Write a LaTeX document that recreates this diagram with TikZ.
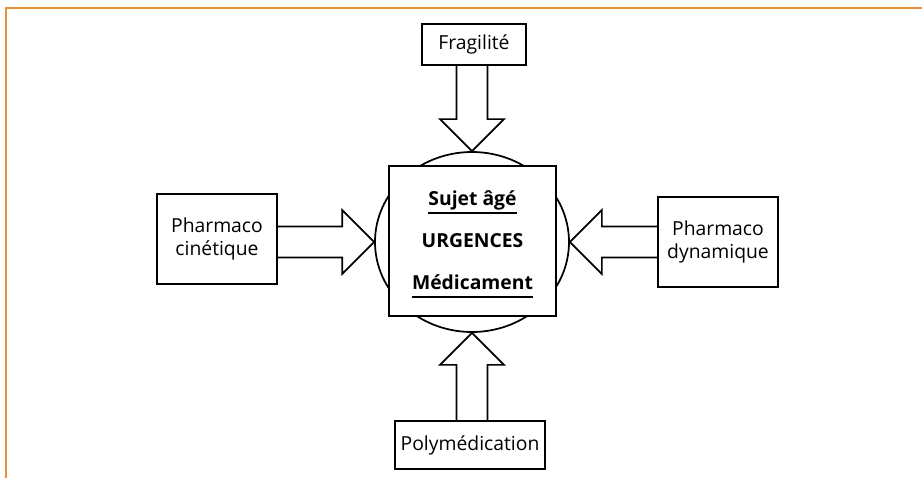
\documentclass[tikz,border=0pt]{standalone}
\usepackage{fontspec}
\setmainfont{Open Sans}
\usetikzlibrary{shapes.geometric,calc}

\definecolor{orangecadre}{RGB}{236,142,60}

% soulignement epais
\newcommand\souligne[1]{\setbox0\hbox{#1}\rlap{\rule[-6.5pt]{\wd0}{1.3pt}}\box0}
% grosse fleche creuse de #1 vers #2
\newcommand\grossefleche[2]{%
  \path ($(#2)!24pt!(#1)$) coordinate (base);
  \draw[fleche] ($(#1)!11.6pt!90:(#2)$) -- ($(base)!11.6pt!90:(#2)$) -- ($(base)!24pt!90:(#2)$) -- (#2)
    -- ($(base)!24pt!-90:(#2)$) -- ($(base)!11.6pt!-90:(#2)$) -- ($(#1)!11.6pt!-90:(#2)$);
}

\begin{document}
\begin{tikzpicture}[
        x=0.75pt, y=-0.75pt, % un pixel de l'image
        boite/.style={draw, line width=1.3pt, align=center, inner sep=0pt, font=\fontsize{14.5}{17.5}\selectfont}, % Cadres
        fleche/.style={line width=1.3pt, line join=miter},
        cadre/.style={draw=orangecadre, line width=1.3pt},
    ]
    \useasboundingbox (0,0) rectangle (922,478);
    \draw[cadre] (6,478) -- (6,8) -- (922,8);

    \node[ellipse, draw, line width=1.3pt, minimum width=145.5pt, minimum height=135pt, inner sep=0pt] (circ) at (472,242) {};
    \node[boite, fill=white, minimum width=125.25pt, minimum height=112.5pt,
          font=\fontsize{14.5}{17.5}\selectfont\bfseries] (urg) at (472.5,241)
          {\rule{0pt}{16pt}\souligne{Sujet âgé}\\[14pt] URGENCES\\[14pt] \souligne{Médicament}};

    \node[boite, minimum width=78pt, minimum height=30.75pt] (frag) at (474,44.5) {Fragilité};
    \node[boite, minimum width=90pt, minimum height=67.5pt] (cine) at (217,239) {Pharmaco\\cinétique};
    \node[boite, minimum width=90pt, minimum height=67.5pt] (dyna) at (718,242) {Pharmaco\\dynamique};
    \node[boite, minimum width=112.5pt, minimum height=36pt] (poly) at (470,445) {Polymédication};

    \coordinate (depfrag) at (circ.north |- frag.south);
    \coordinate (depcine) at (circ.west -| cine.east);
    \coordinate (depdyna) at (circ.east -| dyna.west);
    \coordinate (deppoly) at (circ.south |- poly.north);

    \grossefleche{depfrag}{circ.north}
    \grossefleche{depcine}{circ.west}
    \grossefleche{depdyna}{circ.east}
    \grossefleche{deppoly}{circ.south}
\end{tikzpicture}
\end{document}
